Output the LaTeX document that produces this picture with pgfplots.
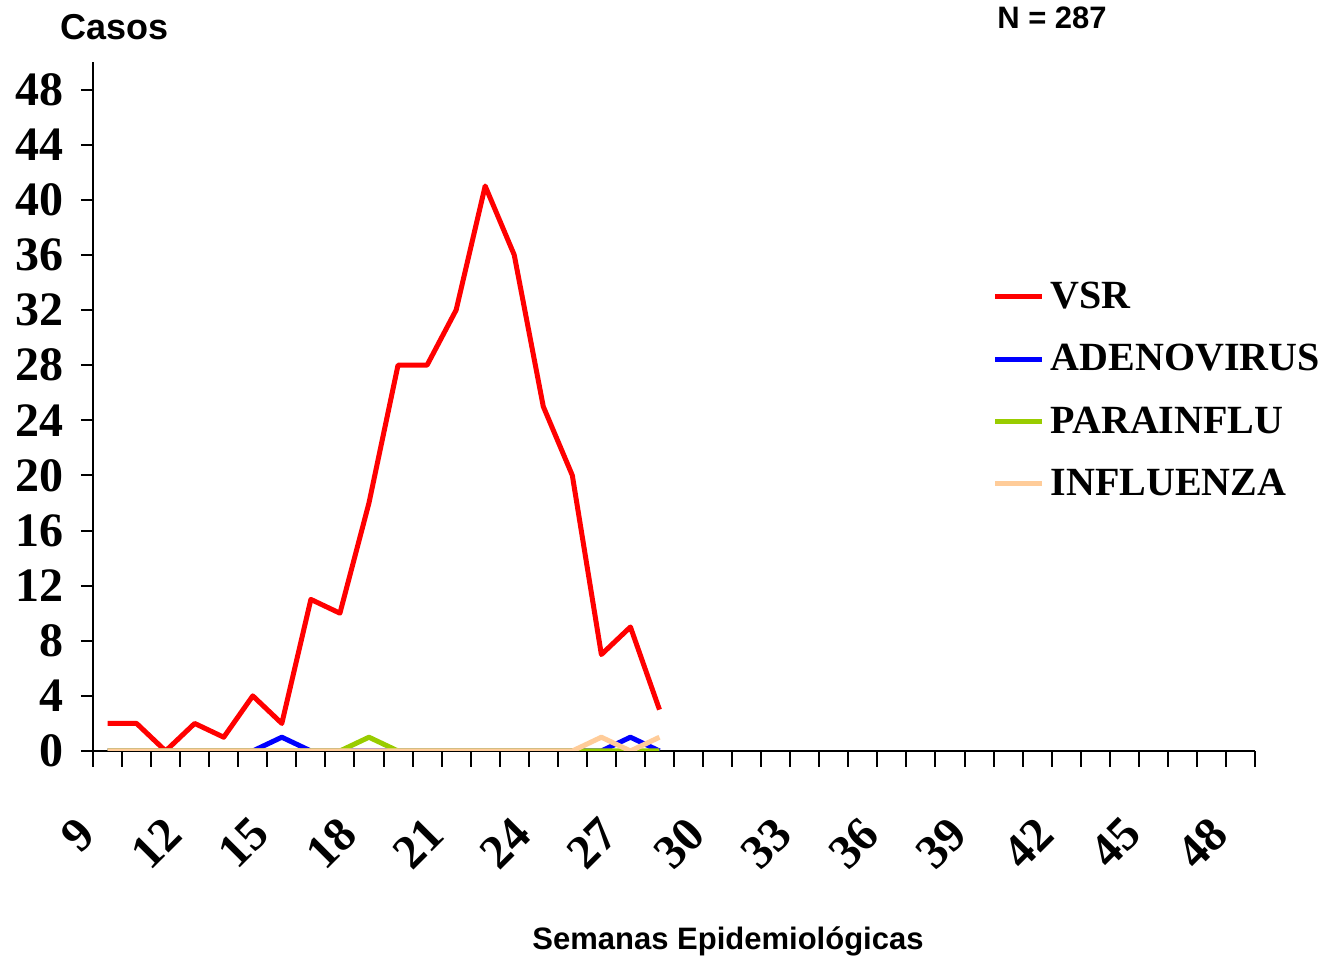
\documentclass[border=0pt]{standalone}
\usepackage{pgfplots}
\pgfplotsset{compat=1.18}
\usepackage{fontspec}
\setmainfont{Liberation Serif}
\newfontfamily\arial{Liberation Sans}
\definecolor{cvsr}{RGB}{255,0,0}
\definecolor{cadeno}{RGB}{0,0,255}
\definecolor{cpara}{RGB}{153,204,0}
\definecolor{cflu}{RGB}{255,204,153}
\begin{document}
\begin{tikzpicture}[x=1pt,y=1pt]
\useasboundingbox (-46.5,-102.5) rectangle (620,375.5);
\begin{axis}[
  at={(0,0)}, anchor=south west,
  scale only axis, width=581pt, height=344.5pt,
  xmin=8.5, xmax=48.5, ymin=0, ymax=50,
  axis lines=left, axis line style={-, line width=1pt},
  xtick={9,12,...,48}, minor xtick={8.5,9.5,...,48.5},
  ytick={0,4,...,48},
  /pgf/number format/assume math mode=true,
  major x tick style={draw=none},
  tick align=outside, major tick length=6pt, minor tick length=8pt,
  tick style={black, line width=1pt},
  ticklabel style={font=\fontsize{24}{24}\selectfont\bfseries},
  xticklabel style={yshift=-29pt, xshift=-8pt, rotate=45, anchor=east},
  yticklabel style={xshift=-5pt},
  legend style={at={(0.774,0.687)}, anchor=north west, draw=none, fill=none,
    font=\fontsize{20}{20}\selectfont\bfseries, inner sep=0pt, row sep=12.4pt,
    /tikz/every odd column/.append style={column sep=1pt}},
  legend cell align=left,
  legend image code/.code={\draw[#1, line width=2.5pt] (0pt,0pt) -- (23.5pt,0pt);},
  every axis plot/.append style={line width=2.5pt, line join=round},
]
\addplot[cvsr] coordinates {(9,2) (10,2) (11,0) (12,2) (13,1) (14,4) (15,2) (16,11) (17,10) (18,18) (19,28) (20,28) (21,32) (22,41) (23,36) (24,25) (25,20) (26,7) (27,9) (28,3)};
\addlegendentry{VSR}
\addplot[cadeno] coordinates {(9,0) (10,0) (11,0) (12,0) (13,0) (14,0) (15,1) (16,0) (17,0) (18,0) (19,0) (20,0) (21,0) (22,0) (23,0) (24,0) (25,0) (26,0) (27,1) (28,0)};
\addlegendentry{ADENOVIRUS}
\addplot[cpara] coordinates {(9,0) (10,0) (11,0) (12,0) (13,0) (14,0) (15,0) (16,0) (17,0) (18,1) (19,0) (20,0) (21,0) (22,0) (23,0) (24,0) (25,0) (26,0) (27,0) (28,0)};
\addlegendentry{PARAINFLU}
\addplot[cflu] coordinates {(9,0) (10,0) (11,0) (12,0) (13,0) (14,0) (15,0) (16,0) (17,0) (18,0) (19,0) (20,0) (21,0) (22,0) (23,0) (24,0) (25,0) (26,1) (27,0) (28,1)};
\addlegendentry{INFLUENZA}
\end{axis}
\node[font=\arial\bfseries\fontsize{18}{18}\selectfont] at (11,362) {Casos};
\node[font=\arial\bfseries\fontsize{15.5}{15.5}\selectfont] at (479.5,366.5) {N = 287};
\node[font=\arial\bfseries\fontsize{15.5}{15.5}\selectfont] at (317.5,-95) {Semanas Epidemiológicas};
\end{tikzpicture}
\end{document}
